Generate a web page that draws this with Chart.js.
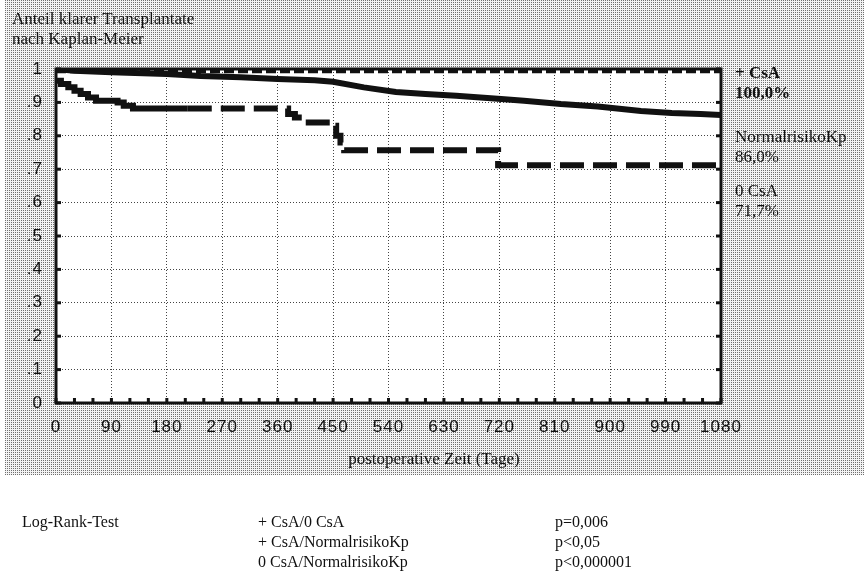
<!DOCTYPE html>
<html>
<head>
<meta charset="utf-8">
<script src="https://cdn.jsdelivr.net/npm/chart.js@4.4.1/dist/chart.umd.min.js"></script>
<style>
body{margin:0;background:#fff;}
#wrap{position:relative;width:864px;height:579px;overflow:hidden;font-family:"Liberation Serif",serif;color:#111;}
#panel{position:absolute;left:5px;top:0;width:859px;height:475px;background-color:#d4d4d4;}
canvas{position:absolute;left:0;top:0;}
.t{position:absolute;line-height:20px;white-space:nowrap;font-size:17px;}
.b{font-size:16px;}
</style>
</head>
<body>
<div id="wrap">
  <div id="panel"></div>
  <canvas id="kmChart" width="864" height="579"></canvas>
  <div class="t" style="left:12px;top:9px;">Anteil klarer Transplantate<br>nach Kaplan-Meier</div>
  <div class="t" style="left:735px;top:63px;font-weight:bold;">+ CsA<br>100,0%</div>
  <div class="t" style="left:735px;top:127px;">NormalrisikoKp<br>86,0%</div>
  <div class="t" style="left:735px;top:181px;">0 CsA<br>71,7%</div>
  <div class="t" style="left:334px;top:449px;width:200px;text-align:center;">postoperative Zeit (Tage)</div>
  <div class="t b" style="left:22px;top:512px;">Log-Rank-Test</div>
  <div class="t b" style="left:258px;top:512px;">+ CsA/0 CsA<br>+ CsA/NormalrisikoKp<br>0 CsA/NormalrisikoKp</div>
  <div class="t b" style="left:555px;top:512px;">p=0,006<br>p&lt;0,05<br>p&lt;0,000001</div>
</div>
<script>
// survival curves (days, fraction)
var plusCsaDays = [0, 1080];
var plusCsaSurv = [0.993, 0.993];

var normDays = [0, 30, 90, 180, 235, 300, 360, 420, 450, 500, 552, 600, 650, 723, 760, 820, 880, 950, 1000, 1047, 1080];
var normSurv = [1.0, 0.995, 0.99, 0.985, 0.979, 0.975, 0.97, 0.966, 0.962, 0.945, 0.931, 0.925, 0.92, 0.91, 0.905, 0.895, 0.888, 0.874, 0.868, 0.865, 0.862];

var nullCsaDays = [0, 8, 20, 30, 40, 52, 65, 100, 110, 125, 214, 377, 388, 403, 447, 455, 462, 468, 718, 1080];
var nullCsaSurv = [0.965, 0.955, 0.945, 0.935, 0.925, 0.915, 0.905, 0.9, 0.89, 0.882, 0.882, 0.865, 0.855, 0.84, 0.83, 0.8, 0.78, 0.757, 0.712, 0.712];

var yTickLabels = ['0', '.1', '.2', '.3', '.4', '.5', '.6', '.7', '.8', '.9', '1'];

function pts(xs, ys) {
  return xs.map(function (d, i) { return { x: d, y: ys[i] }; });
}

// stippled grey panel (one grey dot per 2x2 pixels)
(function () {
  var c = document.createElement('canvas');
  c.width = 2; c.height = 2;
  var g = c.getContext('2d');
  g.fillStyle = '#f4f4f4'; g.fillRect(0, 0, 2, 2);
  g.fillStyle = '#707070'; g.fillRect(0, 0, 1, 1);
  document.getElementById('panel').style.backgroundImage = 'url(' + c.toDataURL() + ')';
})();

// white plot area, frame and the small inner tick marks
var framePlugin = {
  id: 'frame',
  beforeDraw: function (chart) {
    var a = chart.chartArea, ctx = chart.ctx;
    ctx.save();
    ctx.fillStyle = '#fff';
    ctx.fillRect(a.left, a.top, a.right - a.left, a.bottom - a.top);
    ctx.restore();
    ctx.letterSpacing = '1px';
  },
  afterDatasetsDraw: function (chart) {
    var a = chart.chartArea, ctx = chart.ctx;
    var xs = chart.scales.x, ys = chart.scales.y;
    ctx.save();
    ctx.fillStyle = '#111';
    xs.ticks.forEach(function (t) {
      var px = xs.getPixelForValue(t.value);
      ctx.fillRect(px - 1.5, a.bottom - 5, 3, 5);
    });
    ys.ticks.forEach(function (t) {
      var py = ys.getPixelForValue(t.value);
      ctx.fillRect(a.left, py - 1.5, 5, 3);
      ctx.fillRect(a.right - 5, py - 1.5, 5, 3);
    });
    ctx.strokeStyle = '#111';
    ctx.lineWidth = 3;
    ctx.strokeRect(a.left, a.top, a.right - a.left, a.bottom - a.top);
    ctx.restore();
  }
};

var ctx = document.getElementById('kmChart').getContext('2d');
var kmChart = new Chart(ctx, {
  type: 'line',
  data: {
    datasets: [{
      label: 'NormalrisikoKp',
      data: pts(normDays, normSurv),
      borderColor: '#111',
      borderWidth: 6,
      pointRadius: 0,
      tension: 0
    }, {
      label: '+ CsA',
      data: pts(plusCsaDays, plusCsaSurv),
      borderColor: '#111',
      borderWidth: 4,
      borderDash: [10, 4],
      pointRadius: 0
    }, {
      label: '0 CsA',
      data: pts(nullCsaDays, nullCsaSurv),
      borderColor: '#111',
      borderWidth: 6,
      pointRadius: 0,
      stepped: true,
      segment: {
        borderDash: function (c) { return c.p0.parsed.x >= 214 ? [24, 9] : undefined; }
      }
    }]
  },
  options: {
    responsive: false,
    animation: false,
    layout: { padding: { left: 0, top: 69, right: 143, bottom: 104 } },
    plugins: { legend: { display: false }, tooltip: { enabled: false } },
    scales: {
      x: {
        type: 'linear',
        min: 0,
        max: 1080,
        afterFit: function (s) { s.height = 72; },
        ticks: {
          stepSize: 30,
          autoSkip: false,
          maxRotation: 0,
          padding: 14,
          color: '#111',
          font: { family: 'Liberation Sans', size: 17 },
          callback: function (v) { return v % 90 === 0 ? String(v) : ''; }
        },
        grid: {
          drawTicks: false,
          color: function (c) { return c.tick && c.tick.value % 90 === 0 ? '#444' : 'rgba(0,0,0,0)'; },
          lineWidth: 1
        },
        border: { display: false, dash: [1, 2] }
      },
      y: {
        min: 0,
        max: 1,
        afterFit: function (s) { s.width = 56; },
        ticks: {
          stepSize: 0.1,
          padding: 13,
          color: '#111',
          font: { family: 'Liberation Sans', size: 17 },
          callback: function (v, i) { return yTickLabels[i]; }
        },
        grid: { drawTicks: false, color: '#444', lineWidth: 1 },
        border: { display: false, dash: [1, 2] }
      }
    }
  },
  plugins: [framePlugin]
});
</script>
</body>
</html>
